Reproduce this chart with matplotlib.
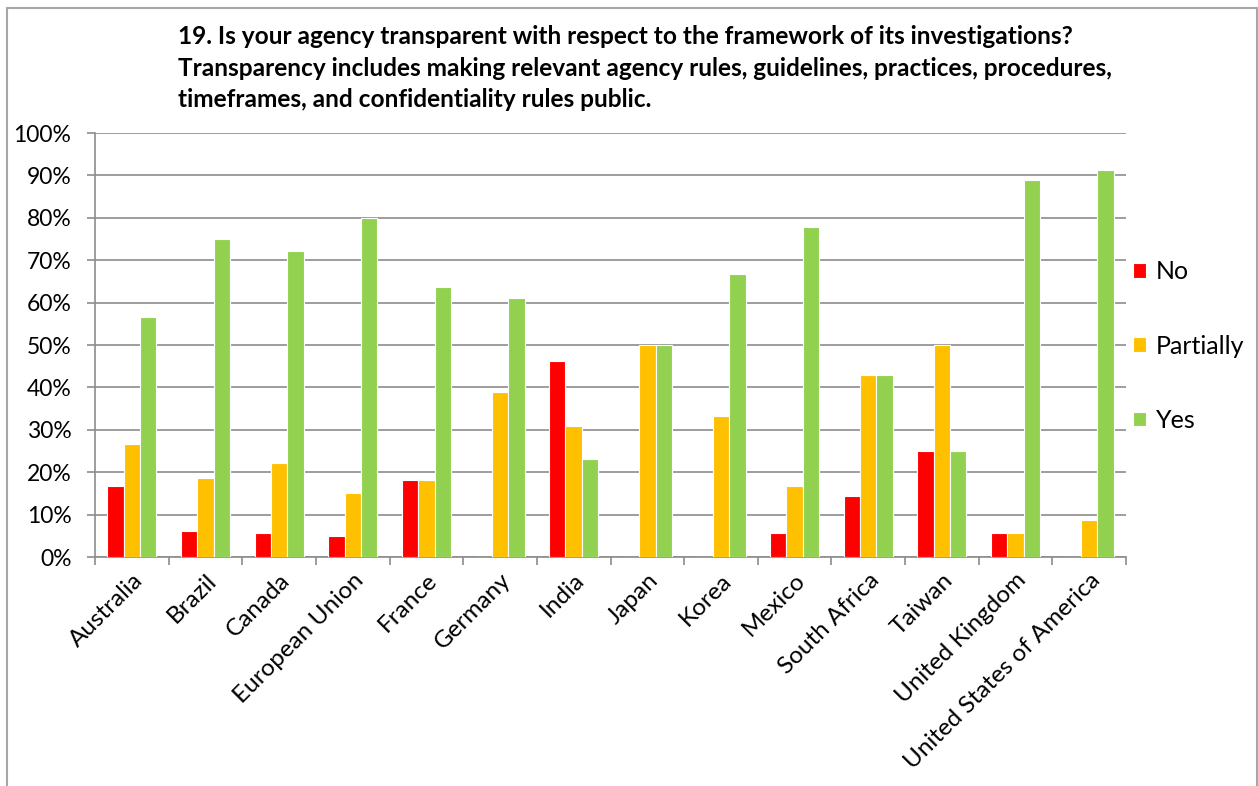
import numpy as np
import matplotlib
matplotlib.use("Agg")
import matplotlib.pyplot as plt
from matplotlib.patches import Rectangle
from matplotlib.ticker import PercentFormatter

# data (percent of respondents)
countries = ["Australia", "Brazil", "Canada", "European Union", "France",
             "Germany", "India", "Japan", "Korea", "Mexico", "South Africa",
             "Taiwan", "United Kingdom", "United States of America"]
no_vals = [16.7, 6.25, 5.6, 5.0, 18.2, 0, 46.2, 0, 0, 5.6, 14.3, 25.0, 5.6, 0]
partially_vals = [26.7, 18.75, 22.2, 15.0, 18.2, 38.9, 30.8, 50.0, 33.3, 16.7,
                  42.9, 50.0, 5.6, 8.7]
yes_vals = [56.7, 75.0, 72.2, 80.0, 63.6, 61.1, 23.1, 50.0, 66.7, 77.8, 42.9,
            25.0, 88.9, 91.3]

title = ("19. Is your agency transparent with respect to the framework of its investigations?\n"
         "Transparency includes making relevant agency rules, guidelines, practices, procedures,\n"
         "timeframes, and confidentiality rules public.")

plt.rcParams["font.family"] = ["Lato", "DejaVu Sans"]

fig = plt.figure(figsize=(12.58, 7.86), dpi=100)
ax = fig.add_axes([95 / 1258, 1 - 557 / 786, (1126 - 95) / 1258, (557 - 133) / 786])

x = np.arange(len(countries))
w = 1 / 4.5
series = [("No", no_vals, "#FF0000"),
          ("Partially", partially_vals, "#FFC000"),
          ("Yes", yes_vals, "#92D050")]
for i, (name, vals, col) in enumerate(series):
    ax.bar(x + (i - 1) * w, vals, w, color=col, edgecolor="white",
           linewidth=0.8, label=name, zorder=3)

ax.set_xlim(-0.5, len(countries) - 0.5)
ax.set_ylim(0, 100)
ax.set_yticks(range(0, 101, 10))
ax.yaxis.set_major_formatter(PercentFormatter(decimals=0))
ax.grid(axis="y", color="#8C8C8C", linewidth=1.2, zorder=0)

# category boundary ticks (major) and labels at the centres (minor)
ax.set_xticks(np.arange(-0.5, len(countries), 1))
ax.set_xticklabels([])
ax.set_xticks(x, minor=True)
ax.set_xticklabels(countries, minor=True, rotation=45, ha="right",
                   rotation_mode="anchor", fontsize=17.5)
ax.tick_params(axis="x", which="minor", length=0, pad=9)
ax.tick_params(axis="x", which="major", length=6, color="#8C8C8C", width=1.2)
ax.tick_params(axis="y", length=6, color="#8C8C8C", width=1.2, labelsize=16.5, pad=11)

for s in ["top", "right"]:
    ax.spines[s].set_visible(False)
for s in ["left", "bottom"]:
    ax.spines[s].set_color("#8C8C8C")
    ax.spines[s].set_linewidth(1.2)

handles, labels = ax.get_legend_handles_labels()
fig.legend(handles, labels, loc="center left",
           bbox_to_anchor=(1133 / 1258, 1 - 346 / 786), frameon=False,
           fontsize=18, handlelength=0.52, handleheight=0.52,
           handletextpad=0.4, labelspacing=2.05, borderpad=0, borderaxespad=0)

fig.text(178 / 1258, 1 - 25 / 786, title, ha="left", va="top",
         fontsize=17.6, fontweight="bold", linespacing=1.45)

fig.patches.append(Rectangle((7 / 1258, -0.02), 1250 / 1258, 1.02 - 8 / 786,
                             transform=fig.transFigure, fill=False,
                             edgecolor="#A6A6A6", linewidth=1.5))

plt.savefig("out.png", dpi=100)
